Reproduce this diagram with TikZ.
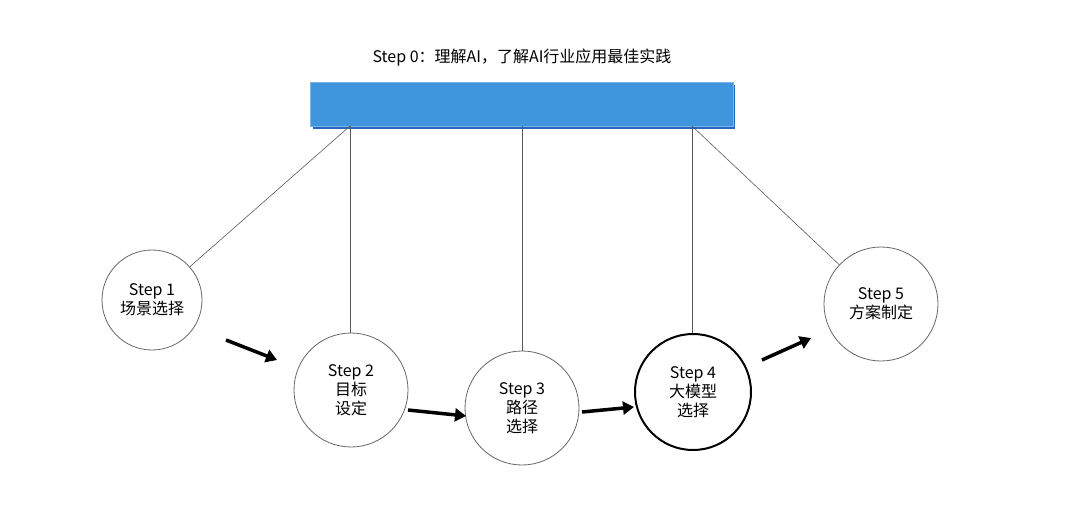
\documentclass[tikz,border=0pt]{standalone}
\usepackage{fontspec}
\setmainfont{Noto Sans CJK SC}
\usetikzlibrary{arrows.meta}
\definecolor{barblue}{HTML}{4096DC}
\definecolor{bardark}{HTML}{2A66C0}
\begin{document}
\begin{tikzpicture}[x=1pt,y=-1pt,
  stepnode/.style={circle,draw=gray!80!black,line width=0.8pt,minimum size=114pt,inner sep=0pt,align=center,font=\fontsize{16}{19}\selectfont,fill=white},
  link/.style={draw=gray!70!black,line width=0.6pt},
  flow/.style={line width=3.5pt,-{Triangle[length=11pt,width=13pt]}}]
\useasboundingbox (0,0) rectangle (1080,520);
\node[font=\fontsize{16}{19}\selectfont] (t) at (522,58) {Step 0：理解AI，了解AI行业应用最佳实践};
\fill[bardark] (313,85) rectangle (735,129);
\node[fill=barblue,draw=barblue!70!white,minimum width=423pt,minimum height=44pt,inner sep=0pt] (bar) at (521.5,104) {};
\node[stepnode,minimum size=100pt] (s1) at (152,300) {Step 1\\场景选择};
\node[stepnode] (s2) at (351,390) {Step 2\\目标\\设定};
\node[stepnode] (s3) at (522,408) {Step 3\\路径\\选择};
\node[stepnode,draw=black,line width=2pt,minimum size=116pt] (s4) at (693,392) {Step 4\\大模型\\选择};
\node[stepnode] (s5) at (881,304) {Step 5\\方案制定};
\coordinate (a) at (350,126);
\coordinate (b) at (522,126);
\coordinate (c) at (692,126);
\draw[link] (a) -- (s1);
\draw[link] (a) -- (s2.north -| a);
\draw[link] (b) -- (s3);
\draw[link] (c) -- (s4.north -| c);
\draw[link] (c) -- (s5);
\coordinate (f1) at (226,340); \coordinate (g1) at (277,360);
\coordinate (f2) at (408,410); \coordinate (g2) at (466,416);
\coordinate (f3) at (582,412); \coordinate (g3) at (634,407);
\coordinate (f4) at (762,360); \coordinate (g4) at (811,338);
\draw[flow] (f1) -- (g1);
\draw[flow] (f2) -- (g2);
\draw[flow] (f3) -- (g3);
\draw[flow] (f4) -- (g4);
\end{tikzpicture}
\end{document}
